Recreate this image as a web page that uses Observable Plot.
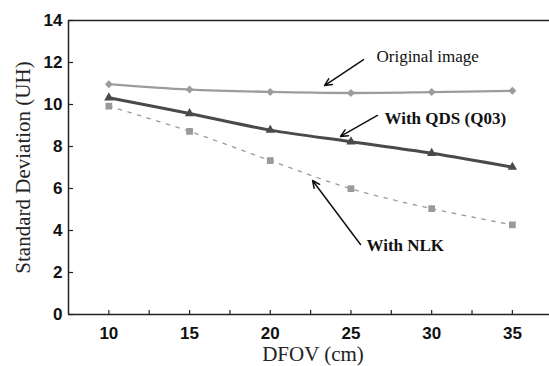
<!DOCTYPE html>
<html>
<head>
<meta charset="utf-8">
<script src="https://cdn.jsdelivr.net/npm/d3@7"></script>
<script src="https://cdn.jsdelivr.net/npm/@observablehq/plot@0.6"></script>
<style>
  html, body { margin: 0; padding: 0; background: #fff; }
  #chart svg g[aria-label="text"] text { font-family: "Liberation Serif", "Times New Roman", "DejaVu Serif", serif; }
  #chart svg g[aria-label="x-axis tick label"] text,
  #chart svg g[aria-label="y-axis tick label"] text { font-family: "Liberation Sans", Arial, sans-serif; }
</style>
</head>
<body>
<div id="chart"></div>
<script>
// ---- data ----
const dfov = [10, 15, 20, 25, 30, 35];
const original = [10.97, 10.71, 10.60, 10.55, 10.59, 10.65];
const qds = [10.32, 9.57, 8.78, 8.23, 7.68, 7.02];
const nlk = [9.92, 8.72, 7.33, 5.99, 5.04, 4.27];

const xTicks = [10, 15, 20, 25, 30, 35];
const xMinorTicks = [10, 12.5, 15, 17.5, 20, 22.5, 25, 27.5, 30, 32.5, 35];
const yTicks = [0, 2, 4, 6, 8, 10, 12, 14];

// annotations (data coordinates)
const annLabels = ["Original image", "With QDS (Q03)", "With NLK"];
const annBold = [false, true, true];
const annTextX = [26.58, 27.08, 25.96];
const annTextY = [12.30, 9.35, 3.30];
const arrowX1 = [25.78, 26.64, 25.59];
const arrowY1 = [12.14, 9.48, 3.33];
const arrowX2 = [23.36, 24.35, 22.62];
const arrowY2 = [10.90, 8.48, 6.38];

const rows = (ys) => dfov.map((x, i) => ({x, y: ys[i]}));
const origRows = rows(original);
const qdsRows = rows(qds);
const nlkRows = rows(nlk);
const ann = annLabels.map((t, i) => ({
  t, bold: annBold[i], tx: annTextX[i], ty: annTextY[i],
  x1: arrowX1[i], y1: arrowY1[i], x2: arrowX2[i], y2: arrowY2[i]
}));

const sans = "'Liberation Sans', Arial, sans-serif";
const serif = "'Liberation Serif', 'Times New Roman', serif";

const chart = Plot.plot({
  width: 549,
  height: 366,
  marginLeft: 68,
  marginRight: 0,
  marginTop: 20,
  marginBottom: 52,
  style: {background: "#fff", overflow: "visible"},
  x: {domain: [7.5, 37.3]},
  y: {domain: [0, 14]},
  marks: [
    // frame lines
    Plot.ruleY([0, 14], {stroke: "#222", strokeWidth: 1.5}),
    Plot.ruleX([7.5], {stroke: "#222", strokeWidth: 1.5}),
    // x axis minor ticks (inward)
    Plot.axisX({ticks: xMinorTicks, tickSize: -4, tickFormat: () => "", label: null, stroke: "#222", strokeWidth: 1.2}),
    // x axis labels
    Plot.axisX({ticks: xTicks, tickSize: 0, tickPadding: 12, label: null,
      fontFamily: sans, fontSize: 17, fontWeight: "bold", fill: "#111"}),
    // y axis ticks (inward)
    Plot.axisY({ticks: yTicks, tickSize: -5, tickFormat: () => "", label: null, stroke: "#222", strokeWidth: 1.2}),
    Plot.axisY({ticks: yTicks, tickSize: 0, tickPadding: 6, label: null,
      fontFamily: sans, fontSize: 17, fontWeight: "bold", fill: "#111"}),
    // axis titles
    Plot.text(["DFOV (cm)"], {frameAnchor: "bottom", lineAnchor: "middle", textAnchor: "middle", dy: 40, dx: 4,
      fontFamily: serif, fontSize: 21, fill: "#222"}),
    Plot.text(["Standard Deviation (UH)"], {frameAnchor: "left", rotate: -90, textAnchor: "middle", lineAnchor: "middle", dx: -45,
      fontFamily: serif, fontSize: 21, fill: "#222"}),
    // series lines
    Plot.line(nlkRows, {x: "x", y: "y", curve: "catmull-rom", stroke: "#9a9a9a",
      strokeWidth: 1.3, strokeDasharray: "3.5,6.5"}),
    Plot.line(origRows, {x: "x", y: "y", curve: "catmull-rom", stroke: "#9c9c9c", strokeWidth: 2.4}),
    Plot.line(qdsRows, {x: "x", y: "y", curve: "catmull-rom", stroke: "#4a4a4a", strokeWidth: 3}),
    // markers
    Plot.dot(nlkRows, {x: "x", y: "y", symbol: "square", r: 3.8, fill: "#9a9a9a", stroke: "none"}),
    Plot.dot(origRows, {x: "x", y: "y", symbol: "diamond2", r: 3.6, fill: "#9c9c9c", stroke: "none"}),
    Plot.dot(qdsRows, {x: "x", y: "y", symbol: "triangle", r: 3.5, fill: "#4a4a4a", stroke: "none"}),
    // annotations
    Plot.arrow(ann, {x1: "x1", y1: "y1", x2: "x2", y2: "y2", stroke: "#111",
      strokeWidth: 1.5, headLength: 8, headAngle: 50}),
    Plot.text(ann, {filter: (d) => !d.bold, x: "tx", y: "ty", text: "t", textAnchor: "start",
      fontFamily: serif, fontSize: 17, fill: "#111"}),
    Plot.text(ann, {filter: (d) => d.bold, x: "tx", y: "ty", text: "t", textAnchor: "start",
      fontWeight: "bold", fontFamily: serif, fontSize: 17, fill: "#111"})
  ]
});
document.getElementById("chart").appendChild(chart);
</script>
</body>
</html>
